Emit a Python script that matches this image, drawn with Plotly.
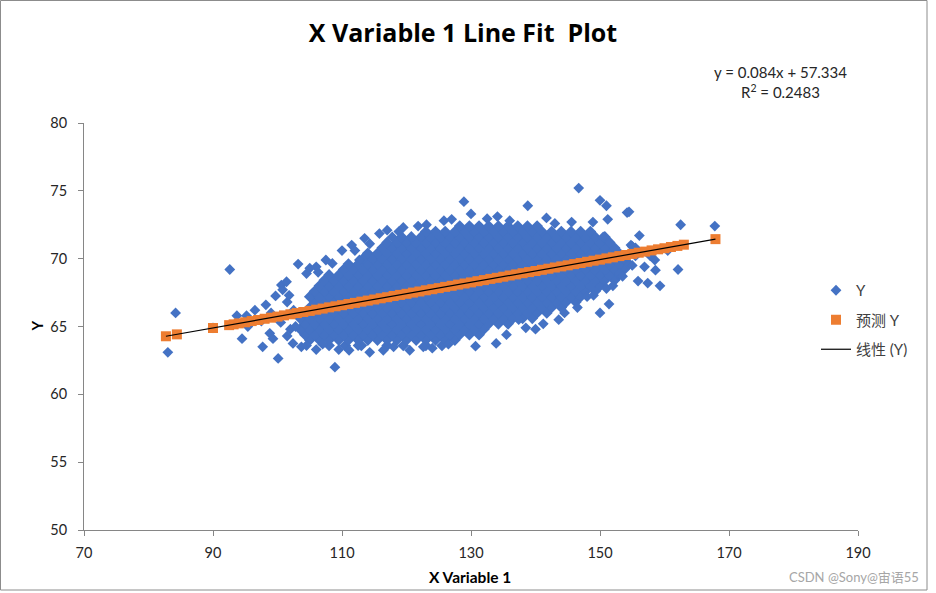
import plotly.graph_objects as go

# ---------------- data ----------------
# dense core of the observed cloud: one y level per row, x values of that row
core_y_rows = [63.6, 64.0, 64.4, 64.8, 65.2, 65.6, 66.0, 66.4, 66.8, 67.2, 67.6, 68.0,
               68.4, 68.8, 69.2, 69.6, 70.0, 70.4, 70.8, 71.2, 71.6, 72.0, 72.4]
core_x_rows = [
    [108, 110.5, 113, 117, 119.5, 123, 125.5],
    [105, 106.5, 108, 109.5, 111, 112.5, 114, 115.5, 117, 118.5, 120, 121.5, 123, 124.5, 126, 127.5],
    [104.25, 105.75, 107.25, 108.75, 110.25, 111.75, 113.25, 114.75, 116.25, 117.75, 119.25, 120.75,
     122.25, 123.75, 125.25, 126.75, 128.25, 129.75, 131.25],
    [103.5, 105, 106.5, 108, 109.5, 111, 112.5, 114, 115.5, 117, 118.5, 120, 121.5, 123, 124.5, 126,
     127.5, 129, 130.5, 132],
    [104.25, 105.75, 107.25, 108.75, 110.25, 111.75, 113.25, 114.75, 116.25, 117.75, 119.25, 120.75,
     122.25, 123.75, 125.25, 126.75, 128.25, 129.75, 131.25, 132.75, 134.25, 135.75],
    [103.5, 105, 106.5, 108, 109.5, 111, 112.5, 114, 115.5, 117, 118.5, 120, 121.5, 123, 124.5, 126,
     127.5, 129, 130.5, 132, 133.5, 135, 136.5, 138, 139.5],
    [104.25, 105.75, 107.25, 108.75, 110.25, 111.75, 113.25, 114.75, 116.25, 117.75, 119.25, 120.75,
     122.25, 123.75, 125.25, 126.75, 128.25, 129.75, 131.25, 132.75, 134.25, 135.75, 137.25, 138.75,
     140.25, 141.75],
    [105, 106.5, 108, 109.5, 111, 112.5, 114, 115.5, 117, 118.5, 120, 121.5, 123, 124.5, 126, 127.5,
     129, 130.5, 132, 133.5, 135, 136.5, 138, 139.5, 141, 142.5, 144],
    [105.75, 107.25, 108.75, 110.25, 111.75, 113.25, 114.75, 116.25, 117.75, 119.25, 120.75, 122.25,
     123.75, 125.25, 126.75, 128.25, 129.75, 131.25, 132.75, 134.25, 135.75, 137.25, 138.75, 140.25,
     141.75, 143.25, 144.75, 146.25],
    [105, 106.5, 108, 109.5, 111, 112.5, 114, 115.5, 117, 118.5, 120, 121.5, 123, 124.5, 126, 127.5,
     129, 130.5, 132, 133.5, 135, 136.5, 138, 139.5, 141, 142.5, 144, 145.5, 147],
    [105.75, 107.25, 108.75, 110.25, 111.75, 113.25, 114.75, 116.25, 117.75, 119.25, 120.75, 122.25,
     123.75, 125.25, 126.75, 128.25, 129.75, 131.25, 132.75, 134.25, 135.75, 137.25, 138.75, 140.25,
     141.75, 143.25, 144.75, 146.25, 147.75, 149.25],
    [106.5, 108, 109.5, 111, 112.5, 114, 115.5, 117, 118.5, 120, 121.5, 123, 124.5, 126, 127.5, 129,
     130.5, 132, 133.5, 135, 136.5, 138, 139.5, 141, 142.5, 144, 145.5, 147, 148.5, 150],
    [107.25, 108.75, 110.25, 111.75, 113.25, 114.75, 116.25, 117.75, 119.25, 120.75, 122.25, 123.75,
     125.25, 126.75, 128.25, 129.75, 131.25, 132.75, 134.25, 135.75, 137.25, 138.75, 140.25, 141.75,
     143.25, 144.75, 146.25, 147.75, 149.25, 150.75, 152.25],
    [108, 109.5, 111, 112.5, 114, 115.5, 117, 118.5, 120, 121.5, 123, 124.5, 126, 127.5, 129, 130.5,
     132, 133.5, 135, 136.5, 138, 139.5, 141, 142.5, 144, 145.5, 147, 148.5, 150, 151.5, 153],
    [110.25, 111.75, 113.25, 114.75, 116.25, 117.75, 119.25, 120.75, 122.25, 123.75, 125.25, 126.75,
     128.25, 129.75, 131.25, 132.75, 134.25, 135.75, 137.25, 138.75, 140.25, 141.75, 143.25, 144.75,
     146.25, 147.75, 149.25, 150.75, 152.25, 153.75],
    [111, 112.5, 114, 115.5, 117, 118.5, 120, 121.5, 123, 124.5, 126, 127.5, 129, 130.5, 132, 133.5,
     135, 136.5, 138, 139.5, 141, 142.5, 144, 145.5, 147, 148.5, 150, 151.5, 153, 154.5],
    [113.25, 114.75, 116.25, 117.75, 119.25, 120.75, 122.25, 123.75, 125.25, 126.75, 128.25, 129.75,
     131.25, 132.75, 134.25, 135.75, 137.25, 138.75, 140.25, 141.75, 143.25, 144.75, 146.25, 147.75,
     149.25, 150.75, 152.25, 153.75],
    [114, 115.5, 117, 118.5, 120, 121.5, 123, 124.5, 126, 127.5, 129, 130.5, 132, 133.5, 135, 136.5,
     138, 139.5, 141, 142.5, 144, 145.5, 147, 148.5, 150, 151.5, 153],
    [116.25, 117.75, 119.25, 120.75, 122.25, 123.75, 125.25, 126.75, 128.25, 129.75, 131.25, 132.75,
     134.25, 135.75, 137.25, 138.75, 140.25, 141.75, 143.25, 144.75, 146.25, 147.75, 149.25, 150.75,
     152.25],
    [117, 118.5, 120, 121.5, 123, 124.5, 126, 127.5, 129, 130.5, 132, 133.5, 135, 136.5, 138, 139.5,
     141, 142.5, 144, 145.5, 147, 148.5, 150, 151.5],
    [119.25, 120.75, 122.25, 123.75, 125.25, 126.75, 128.25, 129.75, 131.25, 132.75, 134.25, 135.75,
     137.25, 138.75, 140.25, 141.75, 143.25, 144.75, 146.25, 147.75, 149.25, 150.75],
    [123, 124.5, 126, 127.5, 129, 130.5, 132, 133.5, 135, 136.5, 138, 139.5, 141, 142.5, 144, 145.5,
     147, 148.5],
    [128.25, 129.75, 131.25, 132.75, 134.25, 135.75, 137.25, 138.75, 140.25],
]

# scattered observations around the core
edge_x = [83.0, 84.2, 92.6, 90.0, 93.7, 95.2, 95.4, 94.5, 97.7, 100.1, 108.9, 98.2, 99.7, 100.6,
          101.4, 103.2, 104.5, 105.0, 106.3, 108.5, 111.5, 112.7, 114.3, 115.8, 118.8, 121.8, 123.1,
          125.8, 98.8, 99.3, 102.4, 103.7, 111.1, 114.3, 116.4, 120.5, 122.6, 96.5, 97.5, 99.0,
          100.5, 101.5, 102.0, 100.8,
          146.7, 128.9, 138.8, 130.0, 150.0, 151.0, 154.5, 151.2, 134.1, 162.5, 167.8, 141.7,
          145.6, 150.5, 156.1, 158.5, 158.6, 156.9, 162.1, 155.9, 159.3, 151.0, 148.0, 151.4,
          150.0, 143.6, 141.2, 137.4, 130.7, 133.9, 154.2, 148.9, 155.5, 157.4, 160.5, 153.0,
          155.0, 157.8, 104.5, 107.0, 112.5, 118.0, 124.0, 126.5, 112.0, 117.8,
          107.5, 110.0, 113.5, 117.0, 119.5, 106.0, 101.8, 102.5, 102.8, 101.5, 106.0, 109.5,
          135.5, 138.5, 140.0, 144.5, 146.5, 149.0, 152.0, 153.5, 155.0, 155.5, 154.8, 127.0,
          132.5, 136.0, 143.0]
edge_y = [63.1, 66.0, 69.2, 64.9, 65.8, 65.8, 65.0, 64.1, 63.5, 62.65, 62.0, 66.6, 67.25, 68.05,
          68.3, 69.6, 68.9, 69.3, 69.0, 69.65, 71.0, 69.9, 71.1, 71.85, 72.0, 72.4, 72.5,
          72.8, 64.5, 64.1, 63.75, 63.5, 63.25, 63.1, 63.25, 63.25, 63.5, 66.2, 65.4, 66.0,
          65.3, 66.8, 64.8, 67.7,
          75.2, 74.2, 73.9, 73.3, 74.3, 73.9, 73.45, 72.9, 73.1, 72.5, 72.4, 73.0,
          72.7, 71.6, 71.7, 69.9, 69.15, 69.4, 69.2, 68.35, 68.0, 67.8, 67.2, 66.65,
          66.0, 65.5, 65.2, 65.5, 63.55, 63.75, 73.4, 72.7, 70.8, 68.2, 70.6, 68.9,
          70.9, 70.2, 63.6, 63.7, 63.6, 63.5, 63.4, 63.7, 70.6, 71.6,
          69.9, 70.6, 71.5, 72.1, 72.3, 69.4, 67.3, 66.2, 65.0, 64.3, 63.3, 63.3,
          64.4, 64.9, 64.8, 66.0, 66.4, 67.3, 68.0, 68.7, 69.5, 70.2, 71.0, 72.9,
          72.95, 72.8, 72.6]

# predicted Y (orange squares)
pred_x = [82.7, 84.4, 90.0, 92.5, 93.2, 94, 95, 96, 97, 98, 99, 100, 101, 102, 103, 104, 105, 106,
          107, 108, 109, 110, 111, 112, 113, 114, 115, 116, 117, 118, 119, 120, 121, 122, 123, 124,
          125, 126, 127, 128, 129, 130, 131, 132, 133, 134, 135, 136, 137, 138, 139, 140, 141, 142,
          143, 144, 145, 146, 147, 148, 149, 150, 151, 152, 153, 154, 155, 156, 157, 158, 159, 160,
          161, 162, 163, 167.9]
pred_y = [64.28, 64.42, 64.89, 65.10, 65.16, 65.23, 65.31, 65.40, 65.48, 65.57, 65.65, 65.73,
          65.82, 65.90, 65.99, 66.07, 66.15, 66.24, 66.32, 66.41, 66.49, 66.57, 66.66, 66.74,
          66.83, 66.91, 66.99, 67.08, 67.16, 67.25, 67.33, 67.41, 67.50, 67.58, 67.67, 67.75,
          67.83, 67.92, 68.00, 68.09, 68.17, 68.25, 68.34, 68.42, 68.51, 68.59, 68.67, 68.76,
          68.84, 68.93, 69.01, 69.09, 69.18, 69.26, 69.35, 69.43, 69.51, 69.60, 69.68, 69.77,
          69.85, 69.93, 70.02, 70.10, 70.19, 70.27, 70.35, 70.44, 70.52, 70.61, 70.69, 70.77,
          70.86, 70.94, 71.03, 71.44]

# linear trendline end points
trend_x = [82.7, 167.9]
trend_y = [64.28, 71.44]

x_ticks = [70, 90, 110, 130, 150, 170, 190]
y_ticks = [50, 55, 60, 65, 70, 75, 80]

# ---------------- build ----------------
core_x, core_y = [], []
for yv, xs in zip(core_y_rows, core_x_rows):
    core_x.extend(xs)
    core_y.extend([yv] * len(xs))

FONT = "Lato, 'Noto Sans CJK SC', sans-serif"
TFONT = "'Open Sans', 'Noto Sans CJK SC', sans-serif"
W, H = 936, 593
L, R, T, B = 84, 78, 123, 63
PW, PH = W - L - R, H - T - B


def px(xp):
    return (xp - L) / PW


def py(yp):
    return (H - B - yp) / PH


BLUE = "#4472C4"
fig = go.Figure()
fig.add_trace(go.Scatter(
    x=core_x, y=core_y, mode="markers", name="Y", legendgroup="a", showlegend=False,
    marker=dict(symbol="diamond", size=9, color=BLUE, line=dict(width=0)),
))
fig.add_trace(go.Scatter(
    x=edge_x, y=edge_y, mode="markers", name="Y", legendgroup="a",
    marker=dict(symbol="diamond", size=8.3, color=BLUE, line=dict(width=0)),
))
fig.add_trace(go.Scatter(
    x=pred_x, y=pred_y, mode="markers", name="预测 Y", legendgroup="b",
    marker=dict(symbol="square", size=10, color="#ED7D31", line=dict(width=0)),
))
fig.add_trace(go.Scatter(
    x=trend_x, y=trend_y, mode="lines", name="线性 (Y)", legendgroup="c",
    line=dict(color="#000000", width=1.2),
))

axis_common = dict(
    showgrid=False, zeroline=False, showline=True, linecolor="#868686", linewidth=1,
    ticks="outside", ticklen=5, tickcolor="#868686", tickwidth=1,
    tickfont=dict(family=FONT, size=14.5, color="#262626"),
)

fig.update_layout(
    width=W, height=H,
    margin=dict(l=L, r=R, t=T, b=B),
    paper_bgcolor="white", plot_bgcolor="white",
    title=dict(text="X Variable 1 Line Fit\u00a0\u00a0Plot", x=463 / W, y=1 - 33 / H,
               xanchor="center", yanchor="middle", xref="container", yref="container",
               font=dict(family=TFONT, size=25, color="#000000", weight="bold")),
    xaxis=dict(range=[70, 190], tickvals=x_ticks, ticklabelstandoff=5, **axis_common),
    yaxis=dict(range=[50, 80], tickvals=y_ticks, ticklabelstandoff=8, **axis_common),
    showlegend=True,
    legend=dict(x=px(816), y=py(274), xanchor="left", yanchor="top",
                font=dict(family=FONT, size=15, color="#404040"),
                tracegroupgap=7, bgcolor="rgba(0,0,0,0)", itemwidth=30),
    annotations=[
        dict(text="y = 0.084x + 57.334", x=px(780), y=py(72), xref="paper", yref="paper",
             showarrow=False, xanchor="center", yanchor="middle",
             font=dict(family=FONT, size=15, color="#262626")),
        dict(text="R<sup>2</sup> = 0.2483", x=px(780), y=py(91.5), xref="paper", yref="paper",
             showarrow=False, xanchor="center", yanchor="middle",
             font=dict(family=FONT, size=15, color="#262626")),
        dict(text="<b>X Variable 1</b>", x=px(470), y=py(577), xref="paper", yref="paper",
             showarrow=False, xanchor="center", yanchor="middle",
             font=dict(family=FONT, size=15.5, color="#000000")),
        dict(text="<b>Y</b>", x=px(36.5), y=py(326), xref="paper", yref="paper",
             showarrow=False, xanchor="center", yanchor="middle", textangle=-90,
             font=dict(family=FONT, size=15, color="#000000")),
        dict(text="CSDN @Sony@宙语55", x=px(921), y=py(577), xref="paper", yref="paper",
             showarrow=False, xanchor="right", yanchor="middle",
             font=dict(family=FONT, size=13, color="#a6a6a6")),
    ],
    shapes=[
        dict(type="rect", xref="paper", yref="paper", x0=px(0.5), x1=px(927), y0=py(590), y1=py(0.5),
             line=dict(color="#8c8c8c", width=1), fillcolor="rgba(0,0,0,0)", layer="below"),
    ],
)

fig.write_html("out.html")
